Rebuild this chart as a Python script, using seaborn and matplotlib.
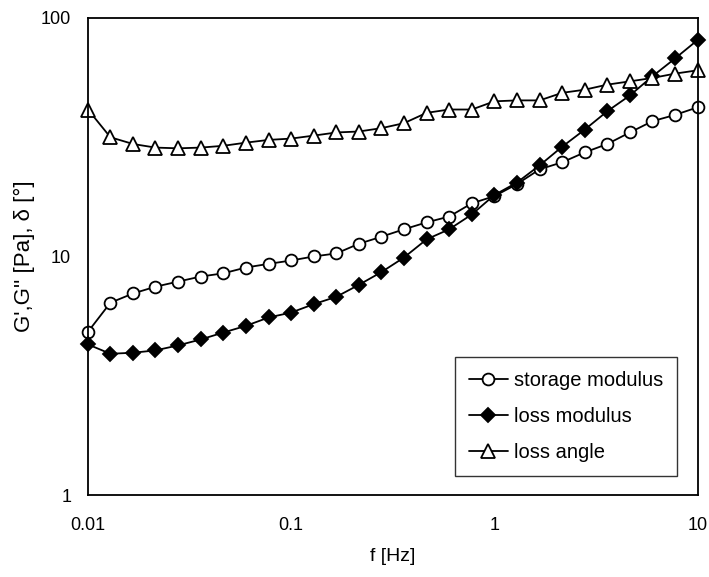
import matplotlib
matplotlib.use("Agg")
import matplotlib.pyplot as plt
from matplotlib.ticker import FixedLocator, FixedFormatter, LogLocator, NullFormatter
import seaborn as sns

# Oscillatory frequency sweep (9 points per decade)
freq_hz = [0.01, 0.0129, 0.0167, 0.0215, 0.0278, 0.0359, 0.0464, 0.0599, 0.0774,
           0.1, 0.129, 0.167, 0.215, 0.278, 0.359, 0.464, 0.599, 0.774,
           1.0, 1.29, 1.67, 2.15, 2.78, 3.59, 4.64, 5.99, 7.74, 10.0]

storage_modulus = [4.83, 6.40, 7.00, 7.47, 7.85, 8.24, 8.50, 8.99, 9.31, 9.62,
                   10.0, 10.3, 11.3, 12.1, 13.0, 13.9, 14.7, 16.7, 17.9, 20.1,
                   23.2, 24.8, 27.3, 29.6, 33.1, 36.9, 39.2, 42.2]

loss_modulus = [4.28, 3.91, 3.95, 4.04, 4.24, 4.49, 4.80, 5.12, 5.55, 5.82,
                6.31, 6.78, 7.60, 8.60, 9.90, 11.8, 13.0, 15.0, 18.1, 20.4,
                24.1, 28.8, 34.0, 40.6, 47.3, 56.9, 67.6, 80.8]

loss_angle = [41.3, 31.6, 29.6, 28.6, 28.4, 28.6, 29.1, 30.0, 30.8, 31.2,
              32.1, 33.1, 33.4, 34.5, 36.2, 40.0, 41.3, 41.3, 44.7, 45.1,
              45.1, 48.5, 50.0, 52.5, 54.2, 56.0, 58.4, 60.3]

x_ticks = [0.01, 0.1, 1, 10]
x_tick_labels = ["0.01", "0.1", "1", "10"]
y_ticks = [1, 10, 100]
y_tick_labels = ["1", "10", "100"]

sns.set_style("white")
plt.rcParams["font.family"] = ["Liberation Sans", "DejaVu Sans"]
plt.rcParams["text.color"] = "black"
plt.rcParams["axes.labelcolor"] = "black"

fig = plt.figure(figsize=(7.09, 5.77), dpi=100)
ax = fig.add_axes([0.124, 0.142, 0.860, 0.827])

common = dict(color="black", linewidth=1.3, markeredgecolor="black",
              markeredgewidth=1.3, clip_on=False, ax=ax)
sns.lineplot(x=freq_hz, y=storage_modulus, marker="o", markersize=8.5,
             markerfacecolor="white", label="storage modulus", **common)
sns.lineplot(x=freq_hz, y=loss_modulus, marker="D", markersize=7,
             markerfacecolor="black", label="loss modulus", **common)
sns.lineplot(x=freq_hz, y=loss_angle, marker="^", markersize=9.5,
             markerfacecolor="white", label="loss angle", **common)

ax.set_xscale("log")
ax.set_yscale("log")
ax.set_xlim(0.01, 10)
ax.set_ylim(1, 100)

ax.xaxis.set_major_locator(FixedLocator(x_ticks))
ax.xaxis.set_major_formatter(FixedFormatter(x_tick_labels))
ax.yaxis.set_major_locator(FixedLocator(y_ticks))
ax.yaxis.set_major_formatter(FixedFormatter(y_tick_labels))
ax.xaxis.set_minor_locator(LogLocator(base=10, subs=range(2, 10)))
ax.yaxis.set_minor_locator(LogLocator(base=10, subs=range(2, 10)))
ax.xaxis.set_minor_formatter(NullFormatter())
ax.yaxis.set_minor_formatter(NullFormatter())

ax.tick_params(which="both", direction="in", colors="black", width=1,
               labelsize=13, top=False, right=False)
ax.tick_params(axis="x", which="major", length=6, pad=16)
ax.tick_params(axis="y", which="major", length=6, pad=12)
ax.tick_params(which="minor", length=4)

for side in ["left", "right", "top", "bottom"]:
    ax.spines[side].set_visible(True)
    ax.spines[side].set_color("black")
    ax.spines[side].set_linewidth(1.3)

ax.set_xlabel("f [Hz]", fontsize=14, labelpad=10, color="black")
ax.set_ylabel("G',G'' [Pa], δ [°]", fontsize=16, labelpad=4, color="black")

leg = ax.legend(loc="lower right", bbox_to_anchor=(0.966, 0.04), fontsize=14.5,
                frameon=True, fancybox=False, edgecolor="black",
                handlelength=1.9, handletextpad=0.3, labelspacing=0.85,
                borderpad=0.7, borderaxespad=0.0)
leg.get_frame().set_linewidth(1.0)
for text in leg.get_texts():
    text.set_color("black")

fig.savefig("out.png", dpi=100, facecolor="white")
